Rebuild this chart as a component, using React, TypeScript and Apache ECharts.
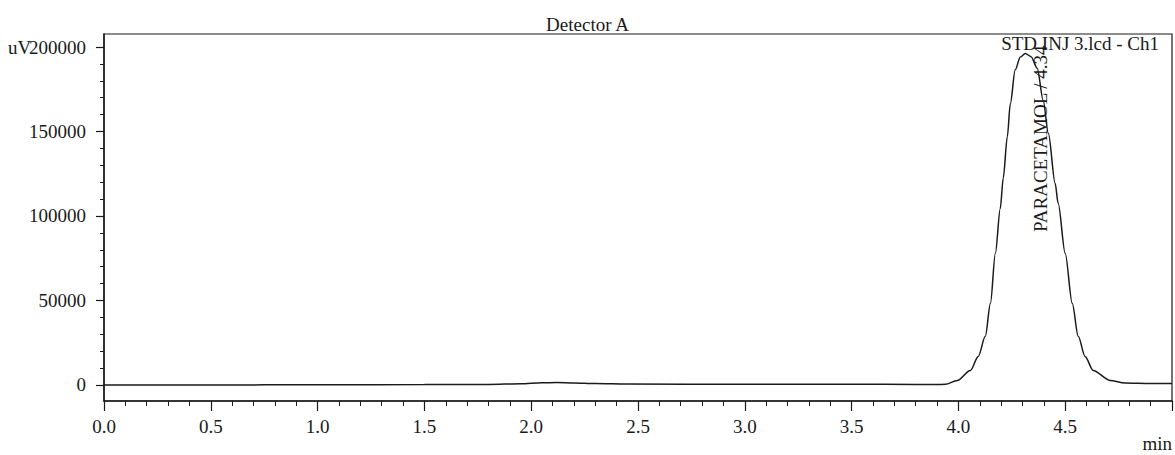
import React, { useEffect, useRef } from "react";
import * as echarts from "echarts";

// Retention time (min) and detector signal (uV)
const times = [
  0, 0.5, 1.0, 1.5, 1.8, 1.95, 2.05, 2.12, 2.2, 2.3, 2.45, 3.0, 3.5, 3.8, 3.9,
  3.939, 3.995, 4.056, 4.093, 4.126, 4.15, 4.173, 4.196, 4.21, 4.229, 4.243,
  4.266, 4.29, 4.313, 4.34, 4.369, 4.397, 4.421, 4.453, 4.467, 4.5, 4.533,
  4.561, 4.593, 4.631, 4.71, 4.78, 4.9, 5.0,
];
const signal = [
  0, 0, 100, 200, 300, 700, 1300, 1400, 1200, 800, 500, 400, 400, 300, 300,
  350, 2700, 8600, 16900, 28800, 48300, 77900, 104500, 122500, 146900, 166400,
  186500, 194100, 196200, 194300, 187500, 168400, 148900, 119300, 107500,
  77900, 48300, 28800, 16900, 8600, 2700, 1200, 900, 900,
];

const yMajorTicks = [0, 50000, 100000, 150000, 200000];
const yMinorTicks = [
  10000, 20000, 30000, 40000, 60000, 70000, 80000, 90000, 110000, 120000,
  130000, 140000, 160000, 170000, 180000, 190000,
];

const titleText = "Detector A";
const fileLabel = "STD INJ 3.lcd - Ch1";
const peakLabel = "PARACETAMOL / 4.34";
const yUnit = "uV";
const xUnit = "min";

const FONT = "Liberation Serif";
const FS = 19;
const INK = "#1a1a1a";

export default function App() {
  const ref = useRef<HTMLDivElement>(null);
  useEffect(() => {
    document.body.style.margin = "0";
    const chart = echarts.init(ref.current!, null, { renderer: "svg" });
    const yMin = -9500;
    const yMax = 207700;
    chart.setOption({
      animation: false,
      backgroundColor: "#ffffff",
      textStyle: { fontFamily: FONT, color: INK },
      title: {
        text: titleText,
        left: "center",
        top: 10,
        textStyle: { fontFamily: FONT, fontSize: FS, fontWeight: "normal", color: INK },
      },
      grid: {
        left: 104,
        right: 3,
        top: 34,
        bottom: 54,
        show: true,
        borderColor: INK,
        borderWidth: 1.2,
      },
      xAxis: {
        type: "value",
        min: 0,
        max: 5,
        interval: 0.5,
        axisLine: { show: true, onZero: false, lineStyle: { color: INK, width: 1.5 } },
        axisTick: { show: true, inside: false, length: 10, lineStyle: { color: INK, width: 1.2 } },
        minorTick: { show: true, splitNumber: 5, length: 5, lineStyle: { color: INK, width: 1 } },
        splitLine: { show: false },
        axisLabel: {
          margin: 16,
          fontFamily: FONT,
          fontSize: FS,
          color: INK,
          formatter: (v: number) => (v >= 5 ? "" : v.toFixed(1)),
        },
      },
      yAxis: [
        {
          type: "value",
          min: yMin,
          max: yMax,
          axisLine: { show: true, onZero: false, lineStyle: { color: INK, width: 1.5 } },
          axisTick: {
            show: true,
            inside: false,
            length: 8,
            customValues: yMajorTicks,
            lineStyle: { color: INK, width: 1.2 },
          },
          axisLabel: {
            customValues: yMajorTicks,
            margin: 18,
            fontFamily: FONT,
            fontSize: FS,
            color: INK,
            formatter: (v: number) => String(v),
          },
          splitLine: { show: false },
        },
        {
          type: "value",
          min: yMin,
          max: yMax,
          position: "left",
          axisLine: { show: false },
          axisTick: {
            show: true,
            inside: false,
            length: 4,
            customValues: yMinorTicks,
            lineStyle: { color: INK, width: 1 },
          },
          axisLabel: { show: false },
          splitLine: { show: false },
        },
      ],
      series: [
        {
          type: "line",
          data: times.map((t, i) => [t, signal[i]]),
          showSymbol: false,
          smooth: 0.3,
          smoothMonotone: "x",
          lineStyle: { color: INK, width: 1.5 },
          yAxisIndex: 0,
        },
      ],
      graphic: [
        {
          type: "text",
          left: 8,
          top: 38,
          style: { text: yUnit, fontFamily: FONT, fontSize: FS, fill: INK },
        },
        {
          type: "text",
          right: 16,
          top: 34,
          style: { text: fileLabel, fontFamily: FONT, fontSize: FS, fill: INK },
        },
        {
          type: "text",
          right: 3,
          top: 434,
          style: { text: xUnit, fontFamily: FONT, fontSize: FS, fill: INK },
        },
        {
          type: "text",
          x: 1040,
          y: 232,
          rotation: Math.PI / 2,
          style: {
            text: peakLabel,
            fontFamily: FONT,
            fontSize: FS,
            fill: INK,
            align: "left",
            verticalAlign: "middle",
          },
        },
      ],
    });
    return () => chart.dispose();
  }, []);
  return <div ref={ref} style={{ width: 1175, height: 455 }} />;
}
